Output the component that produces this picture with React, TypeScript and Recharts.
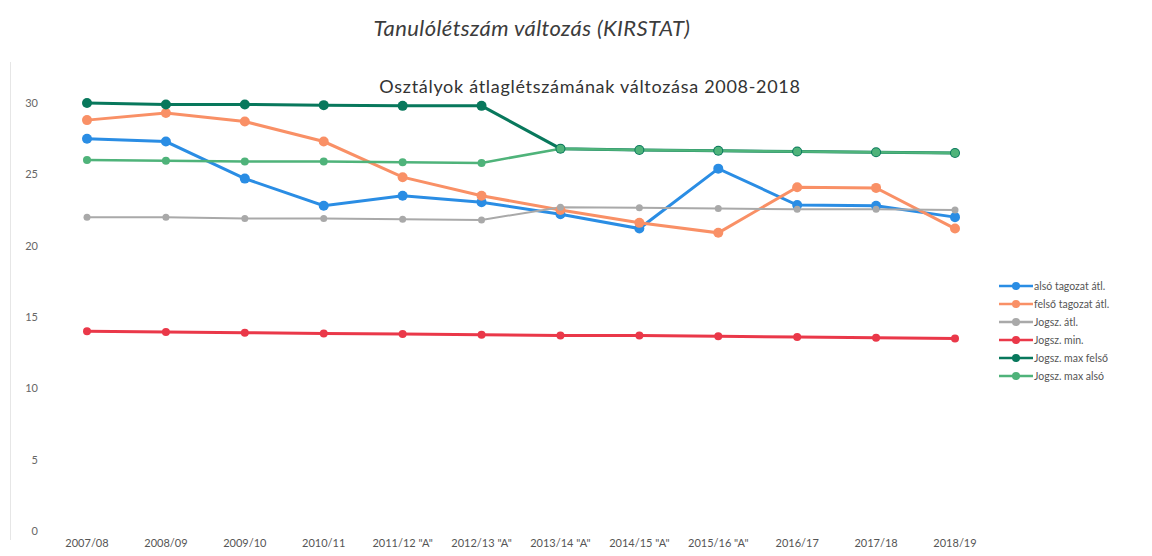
import { LineChart, Line, XAxis, YAxis } from 'recharts';

const EVEK = [
  '2007/08', '2008/09', '2009/10', '2010/11', '2011/12 "A"', '2012/13 "A"',
  '2013/14 "A"', '2014/15 "A"', '2015/16 "A"', '2016/17', '2017/18', '2018/19',
];

const alsoAtl = [27.5, 27.3, 24.7, 22.8, 23.5, 23.05, 22.2, 21.2, 25.4, 22.85, 22.8, 22.0];
const felsoAtl = [28.8, 29.3, 28.7, 27.3, 24.8, 23.5, 22.5, 21.6, 20.9, 24.1, 24.05, 21.2];
const jogszAtl = [22.0, 22.0, 21.9, 21.9, 21.85, 21.8, 22.7, 22.65, 22.6, 22.55, 22.55, 22.5];
const jogszMin = [14.0, 13.95, 13.9, 13.85, 13.8, 13.75, 13.7, 13.7, 13.65, 13.6, 13.55, 13.5];
const jogszMaxFelso = [30.0, 29.9, 29.9, 29.85, 29.8, 29.8, 26.8, 26.7, 26.65, 26.6, 26.55, 26.5];
const jogszMaxAlso = [26.0, 25.95, 25.9, 25.9, 25.85, 25.8, 26.8, 26.7, 26.65, 26.6, 26.55, 26.5];

const Y_TICKS = [0, 5, 10, 15, 20, 25, 30];

const SOROK = [
  { key: 'alsó tagozat átl.', color: '#2a8de4', width: 3, r: 5 },
  { key: 'felső tagozat átl.', color: '#f99066', width: 3, r: 5 },
  { key: 'Jogsz. átl.', color: '#a9a9a9', width: 2, r: 3.5 },
  { key: 'Jogsz. min.', color: '#ea3849', width: 3, r: 4 },
  { key: 'Jogsz. max felső', color: '#08785c', width: 3, r: 5 },
  { key: 'Jogsz. max alsó', color: '#4fb37a', width: 2.5, r: 4 },
];

const ERTEKEK = [alsoAtl, felsoAtl, jogszAtl, jogszMin, jogszMaxFelso, jogszMaxAlso];

const adatok = EVEK.map((ev, i) => {
  const sor: Record<string, any> = { ev };
  SOROK.forEach((s, j) => { sor[s.key] = ERTEKEK[j][i]; });
  return sor;
});

const Jelmagyarazat = () => (
  <div style={{ position: 'absolute', left: 999, top: 277, fontFamily: 'Lato, sans-serif', fontSize: 10.5, color: '#555' }}>
    {SOROK.map(s => (
      <div key={s.key} style={{ display: 'flex', alignItems: 'center', height: 18 }}>
        <svg width={34} height={10}>
          <line x1={0} y1={5} x2={34} y2={5} stroke={s.color} strokeWidth={2.5} />
          <circle cx={17} cy={5} r={4} fill={s.color} />
        </svg>
        <span style={{ marginLeft: 1 }}>{s.key}</span>
      </div>
    ))}
  </div>
);

const App = () => (
  <div style={{ position: 'absolute', left: 0, top: 0, width: 1152, height: 556, background: '#fff', fontFamily: 'Lato, sans-serif' }}>
    <div style={{ position: 'absolute', left: 0, width: 1064, top: 14, textAlign: 'center', fontStyle: 'italic', fontSize: 22, letterSpacing: 0.4, color: '#3c3c3c' }}>
      Tanulólétszám változás (KIRSTAT)
    </div>
    <div style={{ position: 'absolute', left: 10, top: 62, width: 1, height: 478, background: '#e6e6e6' }} />
    <div style={{ position: 'absolute', left: 340, width: 500, top: 75, textAlign: 'center', fontSize: 18, letterSpacing: 0.7, color: '#333' }}>
      Osztályok átlaglétszámának változása 2008-2018
    </div>
    <LineChart width={1152} height={556} data={adatok} margin={{ top: 103, right: 197, left: 0, bottom: 0 }}>
      <XAxis
        dataKey="ev"
        axisLine={false}
        tickLine={false}
        height={25}
        interval={0}
        tick={{ fontSize: 11, fill: '#555' }}
      />
      <YAxis
        domain={[0, 30]}
        ticks={Y_TICKS}
        axisLine={false}
        tickLine={false}
        width={87}
        tickMargin={43}
        tick={{ fontSize: 11, fill: '#666' }}
      />
      {SOROK.map(s => (
        <Line
          key={s.key}
          type="linear"
          dataKey={s.key}
          stroke={s.color}
          strokeWidth={s.width}
          dot={{ r: s.r, fill: s.color, stroke: s.color, strokeWidth: 0 }}
          activeDot={false}
          isAnimationActive={false}
        />
      ))}
    </LineChart>
    <Jelmagyarazat />
  </div>
);

export default App;
